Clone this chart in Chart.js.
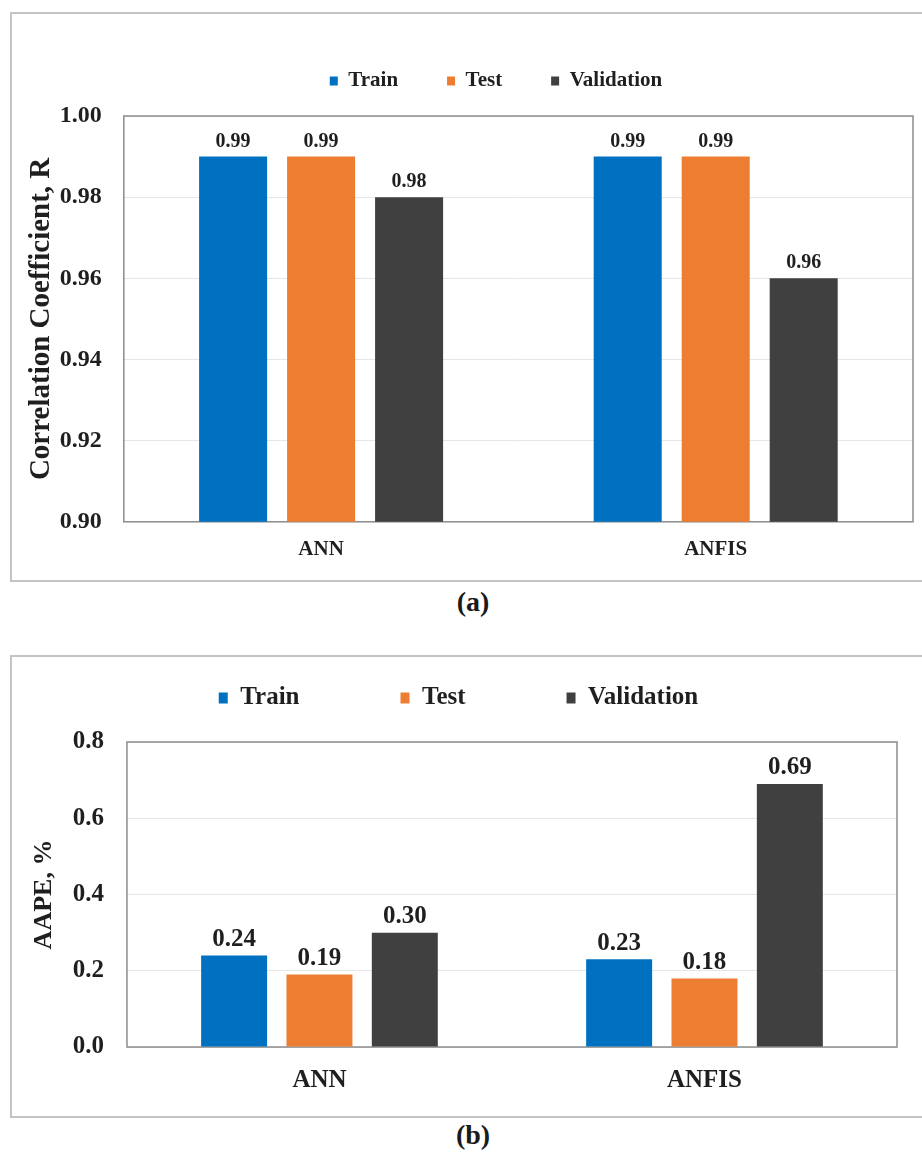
<!DOCTYPE html>
<html>
<head>
<meta charset="utf-8">
<script src="https://cdn.jsdelivr.net/npm/chart.js@4"></script>
<style>
  html, body { margin: 0; padding: 0; background: #fff; overflow: hidden; }
  body { width: 922px; height: 1157px; position: relative; }
  .frame { position: absolute; box-sizing: border-box; border: 2px solid #c4c4c4; background: #fff; }
  canvas { position: absolute; }
  .cap { position: absolute; font-family: "Liberation Serif", "Times New Roman", serif; font-weight: bold; font-size: 28px; color: #1a1a1a; transform: translate(-50%, -50%); }
</style>
</head>
<body>
<div class="frame" style="left:10px; top:12px; width:925px; height:570px;"></div>
<canvas id="chartA" width="910" height="565" style="left:12px; top:14px;"></canvas>
<div class="cap" style="left:473px; top:602px;">(a)</div>

<div class="frame" style="left:10px; top:655px; width:925px; height:463px;"></div>
<canvas id="chartB" width="910" height="459" style="left:12px; top:657px;"></canvas>
<div class="cap" style="left:473px; top:1135px;">(b)</div>

<script>
// ---- data ----
const categories = ['ANN', 'ANFIS'];
const seriesNames = ['Train', 'Test', 'Validation'];
const seriesColors = ['#0070C0', '#ED7D31', '#404040'];

const rTrain = [0.99, 0.99];
const rTest = [0.99, 0.99];
const rValidation = [0.98, 0.96];

const aapeTrain = [0.24, 0.23];
const aapeTest = [0.19, 0.18];
const aapeValidation = [0.30, 0.69];

const rTickMin = 0.90, rTickMax = 1.00, rTickStep = 0.02;
const aapeTickMin = 0.0, aapeTickMax = 0.8, aapeTickStep = 0.2;

// ---- helpers ----
const FONT = '"Liberation Serif", "Times New Roman", serif';
const TXT = '#1f1f1f';

const legendTune = {
  id: 'legendTune',
  beforeUpdate(chart, args, opts) {
    const lg = chart.legend;
    if (!lg || lg._tuned) return;
    lg._tuned = true;
    const fit = lg.fit, draw = lg.draw;
    lg.fit = function () { fit.call(this); this.height += opts.extra || 0; };
    lg.draw = function () {
      const dx = opts.dx || 0, dy = opts.dy || 0;
      const t = this.top, l = this.left, r = this.right;
      this.left = l + dx; this.right = r + dx; this.top = t + dy;
      draw.call(this);
      this.left = l; this.right = r; this.top = t;
    };
  }
};

const plotFrame = {
  id: 'plotFrame',
  beforeDatasetsDraw(chart) {
    const a = chart.chartArea, ctx = chart.ctx;
    ctx.save();
    ctx.strokeStyle = '#8c8c8c';
    ctx.lineWidth = 1.5;
    ctx.strokeRect(a.left, a.top, a.right - a.left, a.bottom - a.top);
    ctx.restore();
  }
};

const valueLabels = {
  id: 'valueLabels',
  afterDatasetsDraw(chart, args, opts) {
    const ctx = chart.ctx;
    ctx.save();
    ctx.font = 'bold ' + opts.size + 'px ' + FONT;
    ctx.fillStyle = TXT;
    ctx.textAlign = 'center';
    ctx.textBaseline = 'middle';
    chart.data.datasets.forEach((ds, i) => {
      const meta = chart.getDatasetMeta(i);
      meta.data.forEach((bar, j) => {
        ctx.fillText(ds.data[j].toFixed(opts.digits), bar.x, bar.y - opts.offset);
      });
    });
    ctx.restore();
  }
};

function makeDatasets(arrs, cp, bp) {
  return arrs.map((d, i) => ({
    label: seriesNames[i],
    data: d,
    backgroundColor: seriesColors[i],
    borderWidth: 0,
    categoryPercentage: cp,
    barPercentage: bp
  }));
}

function makeChart(id, cfg) {
  return new Chart(document.getElementById(id), {
    type: 'bar',
    data: { labels: categories, datasets: makeDatasets(cfg.series, cfg.cp, cfg.bp) },
    plugins: [legendTune, plotFrame, valueLabels],
    options: {
      responsive: false,
      animation: false,
      devicePixelRatio: 1,
      layout: { padding: cfg.pad },
      plugins: {
        tooltip: { enabled: false },
        legend: {
          position: 'top',
          labels: {
            color: TXT,
            font: { family: FONT, size: cfg.legendSize, weight: 'bold' },
            boxWidth: cfg.boxW, boxHeight: cfg.boxH,
            padding: cfg.legendPad
          }
        },
        legendTune: cfg.tune,
        valueLabels: { size: cfg.valueSize, offset: cfg.valueOffset, digits: cfg.digits }
      },
      scales: {
        x: {
          grid: { display: false, drawTicks: false },
          border: { display: false },
          ticks: { color: TXT, padding: cfg.xPad, font: { family: FONT, size: cfg.xSize, weight: 'bold' } }
        },
        y: {
          min: cfg.yMin, max: cfg.yMax,
          grid: { color: '#e6e6e6', lineWidth: 1, drawTicks: false },
          border: { display: false },
          ticks: {
            stepSize: cfg.yStep, color: TXT, padding: cfg.yPad,
            font: { family: FONT, size: cfg.ySize, weight: 'bold' },
            callback: v => Number(v).toFixed(cfg.digitsTick)
          },
          title: {
            display: true, text: cfg.yTitle, color: TXT,
            font: { family: FONT, size: cfg.titleSize, weight: 'bold' },
            padding: cfg.titlePad
          }
        }
      }
    }
  });
}

makeChart('chartA', {
  series: [rTrain, rTest, rValidation],
  cp: 0.669, bp: 0.773,
  pad: { left: 8, right: 9, top: 0, bottom: 2 },
  legendSize: 21, boxW: 8, boxH: 9, legendPad: 49,
  tune: { dx: 29.5, dy: 7.5, extra: 22 },
  valueSize: 20, valueOffset: 15, digits: 2,
  xSize: 21, xPad: 15,
  yMin: rTickMin, yMax: rTickMax, yStep: rTickStep, ySize: 24, yPad: 22, digitsTick: 2,
  yTitle: 'Correlation Coefficient, R', titleSize: 29, titlePad: { top: 4, bottom: -21 }
});

makeChart('chartB', {
  series: [aapeTrain, aapeTest, aapeValidation],
  cp: 0.665, bp: 0.773,
  pad: { left: 13, right: 25, top: 0, bottom: 1 },
  legendSize: 25, boxW: 9, boxH: 11, legendPad: 101,
  tune: { dx: -2.5, dy: -72.5, extra: -51 },
  valueSize: 25, valueOffset: 16, digits: 2,
  xSize: 25, xPad: 19,
  yMin: aapeTickMin, yMax: aapeTickMax, yStep: aapeTickStep, ySize: 25, yPad: 23, digitsTick: 1,
  yTitle: 'AAPE, %', titleSize: 26, titlePad: { top: 4, bottom: -10.5 }
});
</script>
</body>
</html>
